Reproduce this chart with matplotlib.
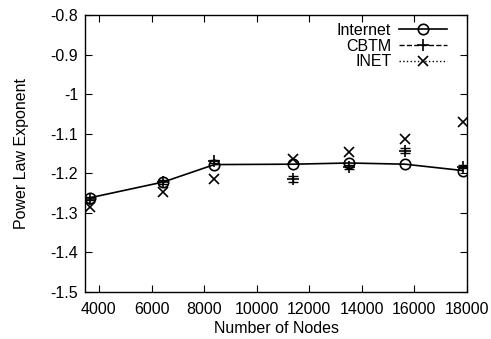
import matplotlib
matplotlib.use("Agg")
import matplotlib.pyplot as plt
import numpy as np

plt.rcParams['font.family'] = ['Liberation Sans', 'DejaVu Sans']

nodes = [3650, 6450, 8390, 11390, 13520, 15640, 17830]
internet = [-1.262, -1.222, -1.178, -1.177, -1.174, -1.177, -1.193]
cbtm = [-1.264, -1.222, -1.170, -1.214, -1.184, -1.143, -1.183]
cbtm_err = [0.004, 0.004, 0.004, 0.008, 0.006, 0.006, 0.004]
inet = [-1.284, -1.248, -1.215, -1.165, -1.145, -1.114, -1.070]

fs = 11.5

fig = plt.figure(figsize=(4.91, 3.39), dpi=100)
ax = fig.add_axes([85 / 491, 1 - 292 / 339, 382 / 491, 277 / 339])

ax.plot(nodes, internet, '-', color='black', lw=1.2, marker='o', ms=7.5,
        mfc='none', mew=1.2, label='Internet')
ax.errorbar(nodes, cbtm, yerr=cbtm_err, fmt='none', ecolor='black',
            elinewidth=1.0, capsize=3.5, capthick=1.0)
ax.plot(nodes, cbtm, ls='none', color='black', marker='+', ms=9, mew=1.2)
ax.plot(nodes, inet, ls='none', color='black', marker='x', ms=7, mew=1.2)

# legend entries in gnuplot style: dashed / dotted samples with markers
ax.plot([], [], '--', color='black', lw=1.0, marker='+', ms=9, mew=1.2, label='CBTM')
ax.plot([], [], ':', color='black', lw=1.0, marker='x', ms=7, mew=1.2, label='INET')

ax.set_xlim(3470, 18000)
ax.set_ylim(-1.5, -0.8)
ax.set_xticks(np.arange(4000, 18001, 2000))
ax.set_yticks(np.arange(-1.5, -0.79, 0.1))
ax.set_yticklabels(['-1.5', '-1.4', '-1.3', '-1.2', '-1.1', '-1', '-0.9', '-0.8'])
ax.tick_params(direction='in', top=True, right=True, length=5, labelsize=fs)
ax.tick_params(axis='x', pad=7)
ax.tick_params(axis='y', pad=5)
for s in ax.spines.values():
    s.set_linewidth(1.0)

ax.set_xlabel('Number of Nodes', fontsize=fs, labelpad=3)
ax.set_ylabel('Power Law Exponent', fontsize=fs, labelpad=15)

ax.legend(loc='upper right', bbox_to_anchor=(0.965, 0.995), frameon=False,
          markerfirst=False, fontsize=fs, handlelength=3.0, handletextpad=0.5,
          labelspacing=0.05, borderaxespad=0.0, borderpad=0.4)

fig.savefig('out.png', dpi=100)
